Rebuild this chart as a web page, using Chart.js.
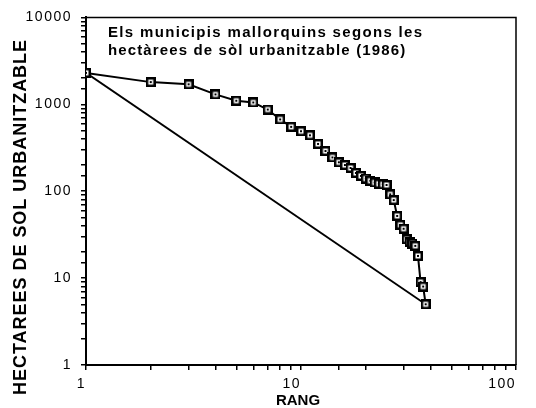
<!DOCTYPE html>
<html>
<head>
<meta charset="utf-8">
<script src="https://cdn.jsdelivr.net/npm/chart.js@4/dist/chart.umd.min.js"></script>
<style>
html,body{margin:0;padding:0;background:#fff;}
#wrap{width:536px;height:408px;position:relative;}
</style>
</head>
<body>
<div id="wrap"><canvas id="c" width="536" height="408"></canvas></div>
<script>
// ---- data ----
const ranks = [1,2,3,4,5,6,7,8,9,10,11,12,13,14,15,16,17,18,19,20,21,22,23,24,25,26,27,28,29,30,31,32,33,34,35,36,37,38];
const hectares = [2300,1800,1700,1300,1100,1050,870,670,550,490,440,350,290,245,215,200,185,162,150,140,132,126,122,120,118,92,79,52,41,37,28,26,25,23.5,18,9,8,5];
const xTickLabels = [1,10,100];
const yTickLabels = [1,10,100,1000,10000];
const titleLines = ["Els municipis mallorquins segons les","hectàrees de sòl urbanitzable (1986)"];
const xTitle = "RANG";
const yTitle = "HECTAREES DE SOL URBANITZABLE";

const FONT = "'Liberation Sans', Arial, Helvetica, sans-serif";

// marker: black square, white inside, black dot
const mk = document.createElement('canvas');
mk.width = 10; mk.height = 10;
(function(){
  const g = mk.getContext('2d');
  g.fillStyle = '#000'; g.fillRect(0,0,10,10);
  g.fillStyle = '#fff'; g.fillRect(2.5,2.5,5,5);
  g.fillStyle = '#000'; g.fillRect(4,4,2,2);
})();

const seriesPts = ranks.map((r,i)=>({x:r,y:hectares[i]}));
const refLine = [{x:ranks[0],y:hectares[0]},{x:ranks[ranks.length-1],y:hectares[hectares.length-1]}];

function fitText(ctx, text, x, y, target){
  ctx.letterSpacing = '0px';
  const w = ctx.measureText(text).width;
  const n = Array.from(text).length;
  const ls = (target - w)/(n-1);
  ctx.letterSpacing = ls.toFixed(2)+'px';
  ctx.fillText(text, x, y);
  ctx.letterSpacing = '0px';
}

const decor = {
  id:'decor',
  beforeDraw(chart){
    chart.ctx.letterSpacing = '1.5px';
  },
  afterDraw(chart){
    const ctx = chart.ctx, a = chart.chartArea;
    ctx.save();
    ctx.letterSpacing = '0px';
    // frame
    ctx.strokeStyle = '#000';
    ctx.lineWidth = 1.5;
    ctx.beginPath();
    ctx.moveTo(a.left, a.top); ctx.lineTo(a.right, a.top); ctx.lineTo(a.right, a.bottom);
    ctx.stroke();
    // title box text
    ctx.fillStyle = '#000';
    ctx.textAlign = 'left';
    ctx.textBaseline = 'alphabetic';
    ctx.font = "bold 15px " + FONT;
    fitText(ctx, titleLines[0], 108, 37, 314);
    fitText(ctx, titleLines[1], 108, 55, 297);
    // x title
    ctx.font = "bold 15px " + FONT;
    ctx.textAlign = 'center';
    ctx.textBaseline = 'middle';
    ctx.fillText(xTitle, 298, 401);
    // y title
    ctx.translate(21, 217);
    ctx.rotate(-Math.PI/2);
    ctx.font = "bold 18px " + FONT;
    ctx.textAlign = 'center';
    ctx.textBaseline = 'middle';
    ctx.letterSpacing = '0px';
    const w = ctx.measureText(yTitle).width;
    const n = Array.from(yTitle).length;
    ctx.letterSpacing = ((355 - w)/(n-1)).toFixed(2) + 'px';
    ctx.fillText(yTitle, 0, 0);
    ctx.restore();
  }
};

new Chart(document.getElementById('c'), {
  type:'line',
  data:{
    datasets:[
      {
        data: seriesPts,
        borderColor:'#000',
        borderWidth:2,
        pointStyle: mk,
        pointRadius:5,
        tension:0,
        fill:false
      },
      {
        data: refLine,
        borderColor:'#000',
        borderWidth:1.8,
        pointRadius:0,
        tension:0,
        fill:false
      }
    ]
  },
  plugins:[decor],
  options:{
    responsive:false,
    animation:false,
    events:[],
    layout:{padding:{top:15,right:20,left:0,bottom:0}},
    plugins:{legend:{display:false},tooltip:{enabled:false},title:{display:false}},
    scales:{
      x:{
        type:'logarithmic',
        min:1, max:100,
        afterFit(s){ s.height = 43; },
        border:{display:true,color:'#000',width:2},
        grid:{drawOnChartArea:false,drawTicks:true,tickLength:5,color:'#000',lineWidth:1.5},
        ticks:{
          autoSkip:false, maxRotation:0, minRotation:0,
          color:'#000', padding:6, align:'end',
          font:{family:FONT,size:14},
          callback(v){ return xTickLabels.includes(v) ? String(v) : ''; }
        }
      },
      y:{
        type:'logarithmic',
        min:1, max:10000,
        afterFit(s){ s.width = 86; },
        border:{display:true,color:'#000',width:2},
        grid:{drawOnChartArea:false,drawTicks:true,tickLength:5,color:'#000',lineWidth:1.5},
        ticks:{
          autoSkip:false,
          color:'#000', padding:9,
          font:{family:FONT,size:14},
          callback(v){ return yTickLabels.includes(v) ? String(v) : ''; }
        }
      }
    }
  }
});
</script>
</body>
</html>
